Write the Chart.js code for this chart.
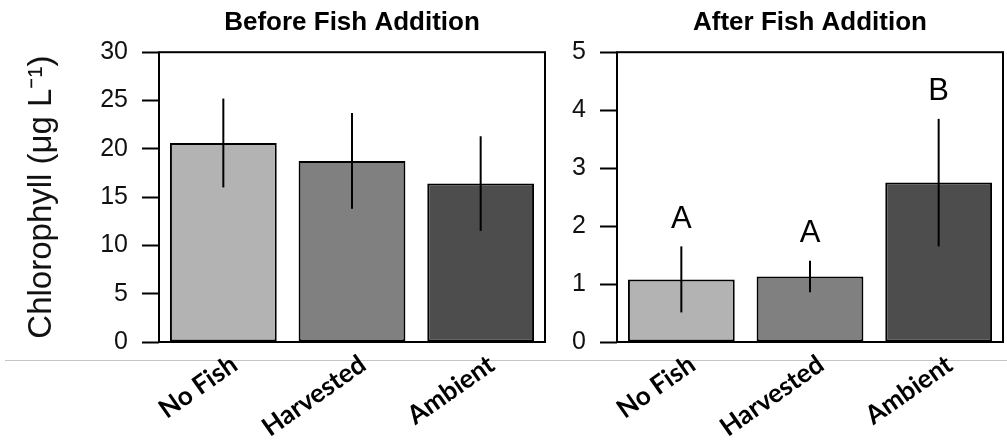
<!DOCTYPE html>
<html>
<head>
<meta charset="utf-8">
<script src="https://cdn.jsdelivr.net/npm/chart.js@4/dist/chart.umd.min.js"></script>
<style>
    html, body { margin: 0; padding: 0; background: #fff; }
    #wrap { position: relative; width: 1007px; height: 444px; overflow: hidden; }
    #rule { position: absolute; left: 5px; right: 0; top: 360px; border-top: 1px solid #c4c4c4; }
    canvas { position: absolute; top: 0; }
    #beforeChart { left: 0; }
    #afterChart { left: 570px; }
</style>
</head>
<body>
<div id="wrap">
    <div id="rule"></div>
    <canvas id="beforeChart" width="570" height="444"></canvas>
    <canvas id="afterChart" width="437" height="444"></canvas>
</div>
<script>
const treatments = ['No Fish', 'Harvested', 'Ambient'];
const barColors = ['#b3b3b3', '#808080', '#4d4d4d'];

// Before fish addition (chlorophyll, ug/L) with standard errors
const beforeMeans = [20.6, 18.75, 16.4];
const beforeErrors = [4.6, 4.95, 4.9];

// After fish addition
const afterMeans = [1.08, 1.13, 2.75];
const afterErrors = [0.57, 0.27, 1.1];
const afterLetters = ['A', 'A', 'B'];

const axisFont = { family: '"Liberation Sans", Arial, sans-serif', size: 25 };
const labelFont = { family: 'Lato, "Open Sans", sans-serif', size: 26, weight: 'bold' };

// Error bars, significance letters and the plot frame
function panelExtras(errors, letters) {
    return {
        id: 'panelExtras',
        afterDatasetsDraw(chart) {
            const ctx = chart.ctx;
            const yScale = chart.scales.y;
            const values = chart.data.datasets[0].data;
            const area = chart.chartArea;
            ctx.save();
            ctx.strokeStyle = '#000';
            ctx.fillStyle = '#000';
            ctx.lineWidth = 2;
            chart.getDatasetMeta(0).data.forEach((bar, i) => {
                const top = yScale.getPixelForValue(values[i] + errors[i]);
                const bottom = yScale.getPixelForValue(values[i] - errors[i]);
                ctx.beginPath();
                ctx.moveTo(bar.x, top);
                ctx.lineTo(bar.x, bottom);
                ctx.stroke();
                if (letters[i]) {
                    ctx.font = '31px "Liberation Sans", Arial, sans-serif';
                    ctx.textAlign = 'center';
                    ctx.textBaseline = 'middle';
                    ctx.fillText(letters[i], bar.x, top - 27);
                }
            });
            ctx.strokeRect(area.left, area.top, area.right - area.left, area.bottom - area.top);
            ctx.restore();
        }
    };
}

function makePanel(canvasId, title, means, errors, letters, yMax, yStep, yWidth, rightPad, yTitle) {
    return new Chart(document.getElementById(canvasId), {
        type: 'bar',
        data: {
            labels: treatments,
            datasets: [{
                data: means,
                backgroundColor: barColors,
                borderColor: '#000',
                borderWidth: 2,
                borderSkipped: false,
                categoryPercentage: 1,
                barPercentage: 0.83
            }]
        },
        options: {
            responsive: false,
            animation: false,
            layout: { padding: { left: 0, right: rightPad, top: 0, bottom: 0 } },
            plugins: {
                legend: { display: false },
                tooltip: { enabled: false },
                title: {
                    display: true,
                    text: title,
                    fullSize: false,
                    color: '#000',
                    font: { family: '"Liberation Sans", Arial, sans-serif', size: 26, weight: 'bold' },
                    padding: { top: 7, bottom: 14 }
                }
            },
            scales: {
                x: {
                    grid: { display: false, drawTicks: false },
                    border: { display: false },
                    ticks: {
                        color: '#000',
                        font: labelFont,
                        minRotation: 35,
                        maxRotation: 35,
                        padding: 7,
                        labelOffset: 11
                    },
                    afterFit: (scale) => { scale.height = 102; }
                },
                y: {
                    min: 0,
                    max: yMax,
                    border: { display: false },
                    grid: {
                        drawOnChartArea: false,
                        drawTicks: true,
                        tickLength: 17,
                        tickWidth: 2,
                        tickColor: '#000'
                    },
                    ticks: { stepSize: yStep, color: '#111', font: axisFont, padding: 14 },
                    title: {
                        display: !!yTitle,
                        text: yTitle || '',
                        color: '#111',
                        font: { family: '"Liberation Sans", Arial, sans-serif', size: 33 },
                        padding: { top: 22, bottom: 0 }
                    },
                    afterFit: (scale) => { scale.width = yWidth; }
                }
            }
        },
        plugins: [panelExtras(errors, letters)]
    });
}

makePanel('beforeChart', 'Before Fish Addition', beforeMeans, beforeErrors, [], 30, 5, 159, 25, 'Chlorophyll (μg L⁻¹)');
makePanel('afterChart', 'After Fish Addition', afterMeans, afterErrors, afterLetters, 5, 1, 47, 4, null);
</script>
</body>
</html>
